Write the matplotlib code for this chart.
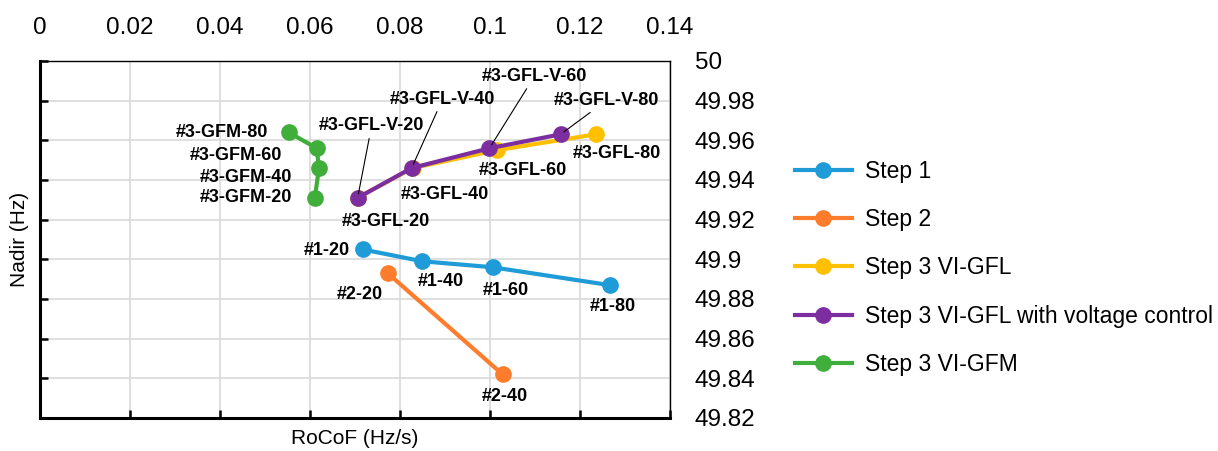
import matplotlib
matplotlib.use('Agg')
import matplotlib.pyplot as plt
from matplotlib.lines import Line2D

plt.rcParams['font.family'] = ['Liberation Sans', 'DejaVu Sans']

# Данные: RoCoF (Hz/s) и Nadir (Hz)
step1_x = [0.0717, 0.0850, 0.1006, 0.1266]
step1_y = [49.905, 49.899, 49.896, 49.887]
step1_lbl = ['#1-20', '#1-40', '#1-60', '#1-80']

step2_x = [0.0773, 0.1028]
step2_y = [49.893, 49.842]
step2_lbl = ['#2-20', '#2-40']

gfl_x = [0.0706, 0.0828, 0.1015, 0.1235]
gfl_y = [49.931, 49.946, 49.955, 49.963]
gfl_lbl = ['#3-GFL-20', '#3-GFL-40', '#3-GFL-60', '#3-GFL-80']

gflv_x = [0.0706, 0.0826, 0.0999, 0.1157]
gflv_y = [49.931, 49.946, 49.956, 49.963]
gflv_lbl = ['#3-GFL-V-20', '#3-GFL-V-40', '#3-GFL-V-60', '#3-GFL-V-80']

gfm_x = [0.0611, 0.0620, 0.0615, 0.0553]
gfm_y = [49.931, 49.946, 49.956, 49.964]
gfm_lbl = ['#3-GFM-20', '#3-GFM-40', '#3-GFM-60', '#3-GFM-80']

legend_names = ['Step 1', 'Step 2', 'Step 3 VI-GFL',
                'Step 3 VI-GFL with voltage control', 'Step 3 VI-GFM']
colors = ['#1f9bd7', '#fd7d2c', '#ffc000', '#7c2ea0', '#3fae3a']

x_ticks = [0, 0.02, 0.04, 0.06, 0.08, 0.1, 0.12, 0.14]
y_ticks = [49.82, 49.84, 49.86, 49.88, 49.9, 49.92, 49.94, 49.96, 49.98, 50]

fig = plt.figure(figsize=(12.18, 4.51), dpi=100)
ax = fig.add_axes([0.0328, 0.0732, 0.5172, 0.7916])

series = [(step1_x, step1_y), (step2_x, step2_y), (gfl_x, gfl_y),
          (gflv_x, gflv_y), (gfm_x, gfm_y)]
for (xs, ys), c in zip(series, colors):
    ax.plot(xs, ys, color=c, lw=3, marker='o', markersize=11, zorder=3)

ax.set_xlim(0, 0.14)
ax.set_ylim(49.82, 50)
ax.set_xticks(x_ticks)
ax.set_xticklabels([f'{v:g}' for v in x_ticks])
ax.set_yticks(y_ticks)
ax.set_yticklabels([f'{v:g}' for v in y_ticks])
ax.grid(True, color='#d9d9d9', lw=1.2, zorder=0)

ax.tick_params(axis='x', top=False, bottom=True, labeltop=True, labelbottom=False,
               direction='in', length=6, width=1.8, labelsize=17.5, pad=16)
ax.tick_params(axis='y', left=True, right=False, labelright=True, labelleft=False,
               direction='in', length=6, width=1.8, labelsize=17.5, pad=18)

for side in ['left', 'bottom']:
    ax.spines[side].set_linewidth(2.2)
for side in ['top', 'right']:
    ax.spines[side].set_linewidth(1.0)

ax.xaxis.set_label_position('bottom')
ax.yaxis.set_label_position('left')
ax.set_xlabel('RoCoF (Hz/s)', fontsize=15, labelpad=8)
ax.set_ylabel('Nadir (Hz)', fontsize=15, labelpad=8)

lab = dict(fontsize=13, fontweight='bold', textcoords='offset pixels',
           va='center', zorder=5)

# подписи точек (смещения в пикселях)
off1 = [(-13, -1, 'right'), (18, -20, 'center'), (13, -23, 'center'), (3, -21, 'center')]
for x, y, t, (dx, dy, ha) in zip(step1_x, step1_y, step1_lbl, off1):
    ax.annotate(t, (x, y), xytext=(dx, dy), ha=ha, **lab)

off2 = [(-28, -21, 'center'), (2, -22, 'center')]
for x, y, t, (dx, dy, ha) in zip(step2_x, step2_y, step2_lbl, off2):
    ax.annotate(t, (x, y), xytext=(dx, dy), ha=ha, **lab)

off3 = [(28, -24), (32, -26), (26, -20), (21, -19)]
for x, y, t, (dx, dy) in zip(gfl_x, gfl_y, gfl_lbl, off3):
    ax.annotate(t, (x, y), xytext=(dx, dy), ha='center', **lab)

offv = [(14, 72), (31, 69), (45, 72), (46, 34)]
for x, y, t, (dx, dy) in zip(gflv_x, gflv_y, gflv_lbl, offv):
    ax.annotate(t, (x, y), xytext=(dx, dy), ha='center',
                arrowprops=dict(arrowstyle='-', color='black', lw=0.8,
                                shrinkA=1, shrinkB=3), **lab)

offm = [(-23, 0), (-27, -9), (-35, -7), (-21, 0)]
for x, y, t, (dx, dy) in zip(gfm_x, gfm_y, gfm_lbl, offm):
    ax.annotate(t, (x, y), xytext=(dx, dy), ha='right', **lab)

handles = [Line2D([], [], color=c, lw=3, marker='o', markersize=11) for c in colors]
fig.legend(handles, legend_names, loc='upper left', bbox_to_anchor=(0.6527, 0.6453),
           frameon=False, fontsize=16.5, handlelength=2.47, handletextpad=0.6,
           labelspacing=1.1, borderpad=0, borderaxespad=0)

fig.savefig('out.png', dpi=100)
